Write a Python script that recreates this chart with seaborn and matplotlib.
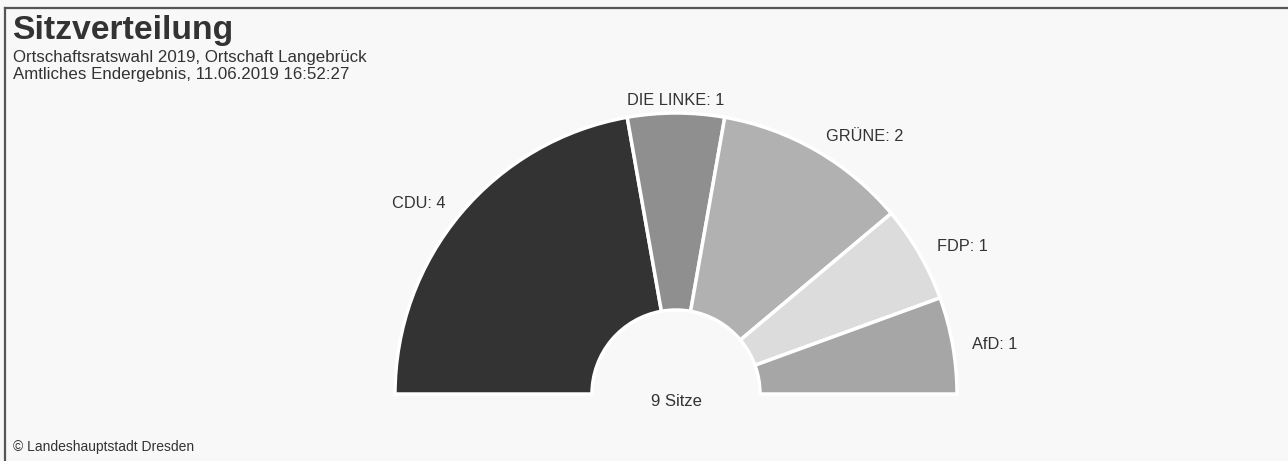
import numpy as np
import matplotlib
matplotlib.use("Agg")
import matplotlib.pyplot as plt
import seaborn as sns

# data
parties = ["CDU", "DIE LINKE", "GRÜNE", "FDP", "AfD"]
seats = [4, 1, 2, 1, 1]
colors = ["#333333", "#8f8f8f", "#b1b1b1", "#dcdcdc", "#a6a6a6"]
title = "Sitzverteilung"
subtitle = ["Ortschaftsratswahl 2019, Ortschaft Langebrück",
            "Amtliches Endergebnis, 11.06.2019 16:52:27"]
credit = "© Landeshauptstadt Dresden"

sns.set_theme(style="white")
plt.rcParams['font.family'] = ['Liberation Sans', 'DejaVu Sans']

W, H = 1288, 461
bg = "#f8f8f8"
fig = plt.figure(figsize=(W / 100, H / 100), dpi=100, facecolor=bg)

# axes with a frame on the left and top only (1 data unit = 1 px)
left, top = 5, 8
ax = fig.add_axes([left / W, 0, 1 - left / W, (H - top) / H])
ax.set_facecolor(bg)
for side in ["right", "bottom"]:
    ax.spines[side].set_visible(False)
for side in ["left", "top"]:
    ax.spines[side].set_color("#555555")
    ax.spines[side].set_linewidth(1.6)

cx, cy = 676 - left, H - 394
radius = 281
hole = 84
total = sum(seats)

wedges, _ = ax.pie(seats + [total], colors=colors + ["none"],
                   startangle=180, counterclock=False,
                   center=(cx, cy), radius=radius, frame=True,
                   wedgeprops=dict(width=radius - hole, edgecolor="white", linewidth=2.5))
wedges[-1].set_edgecolor("none")
ax.set_xlim(0, W - left)
ax.set_ylim(0, H - top)
ax.set_aspect("equal")
ax.set_xticks([])
ax.set_yticks([])

# labels beside each segment
for w, p, s in zip(wedges[:-1], parties, seats):
    mid = np.deg2rad((w.theta1 + w.theta2) / 2)
    r = radius + 20
    x, y = cx + r * np.cos(mid), cy + r * np.sin(mid)
    c = np.cos(mid)
    ha = "right" if c < -0.15 else ("left" if c > 0.15 else "center")
    if ha == "center":
        y -= 4
    ax.text(x, y - 3, f"{p}: {s}", ha=ha, va="center", fontsize=11.8, color="#333333")

ax.text(cx, cy - 8, f"{total} Sitze", ha="center", va="center", fontsize=12, color="#333333")

# titles
fig.text(12 / W, 1 - 15 / H, title, ha="left", va="top", fontsize=24.3,
         fontweight="bold", color="#333333")
fig.text(13 / W, 1 - 50 / H, subtitle[0], ha="left", va="top", fontsize=12.2, color="#333333")
fig.text(13 / W, 1 - 67 / H, subtitle[1], ha="left", va="top", fontsize=12.2, color="#333333")
fig.text(13 / W, 1 - 447 / H, credit, ha="left", va="center", fontsize=10, color="#333333")

fig.savefig("out.png", dpi=100, facecolor=bg)
